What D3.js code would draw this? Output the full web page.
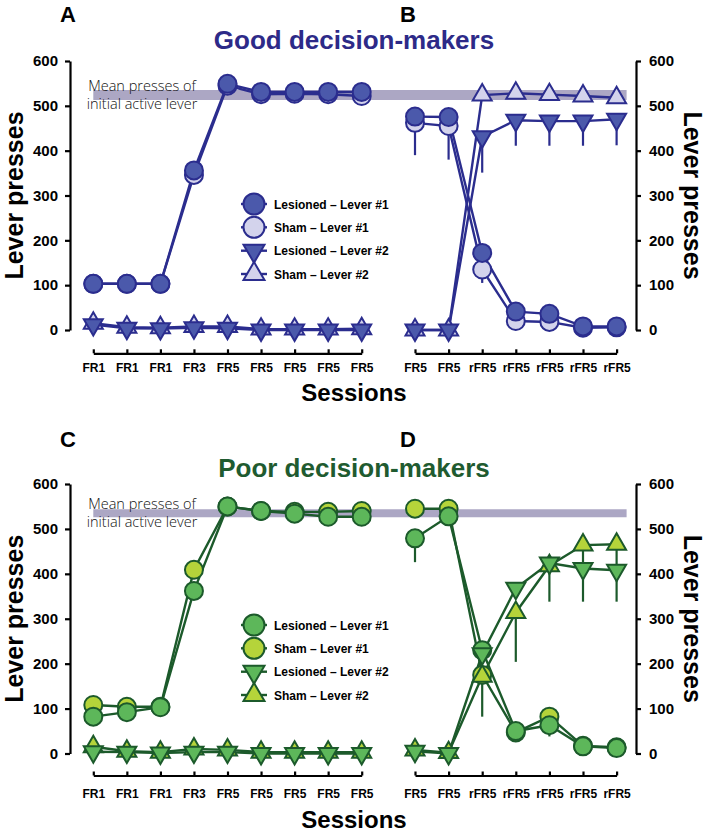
<!DOCTYPE html>
<html>
<head>
<meta charset="utf-8">
<script src="https://cdn.jsdelivr.net/npm/d3@7"></script>
<style>
  html, body { margin: 0; padding: 0; background: #fff; }
  svg { display: block; }
</style>
</head>
<body>
<svg id="chart" width="709" height="834"></svg>
<script>
// ---------------- DATA ----------------
const sessionsAcq = ["FR1","FR1","FR1","FR3","FR5","FR5","FR5","FR5","FR5"];
const sessionsRev = ["FR5","FR5","rFR5","rFR5","rFR5","rFR5","rFR5"];
const yTicks = [0, 100, 200, 300, 400, 500, 600];
const legendLabels = ["Lesioned – Lever #1", "Sham – Lever #1", "Lesioned – Lever #2", "Sham – Lever #2"];
const meanLabel = ["Mean presses of", "initial active lever"];

// Good decision-makers (panels A, B)
const goodMeanInitial = 524;
const goodLesL1Acq  = [103, 103, 103, 356, 549, 531, 531, 531, 531];
const goodShamL1Acq = [103, 103, 103, 346, 545, 526, 527, 526, 522];
const goodLesL2Acq  = [12, 4, 3, 5, 4, 0, 0, 0, 0];
const goodShamL2Acq = [15, 6, 5, 8, 8, 2, 2, 2, 3];
const goodLesL1Rev  = [476, 475, 172, 41, 36, 8, 8];
const goodShamL1Rev = [462, 455, 135, 20, 18, 5, 6];
const goodLesL2Rev  = [0, 0, 431, 468, 466, 466, 470];
const goodShamL2Rev = [0, 0, 524, 528, 525, 522, 518];
const goodShamL1RevErr = [72, 75, 30, 0, 0, 0, 0];
const goodLesL2RevErr  = [0, 0, 80, 57, 55, 55, 58];

// Poor decision-makers (panels C, D)
const poorMeanInitial = 535;
const poorLesL1Acq  = [82, 92, 103, 362, 550, 540, 534, 527, 527];
const poorShamL1Acq = [108, 104, 104, 409, 550, 540, 538, 538, 540];
const poorLesL2Acq  = [4, 3, 1, 3, 3, 0, 0, 0, 0];
const poorShamL2Acq = [15, 5, 3, 10, 8, 3, 3, 3, 3];
const poorLesL1Rev  = [479, 528, 230, 50, 63, 16, 12];
const poorShamL1Rev = [545, 545, 175, 47, 82, 17, 14];
const poorLesL2Rev  = [5, 0, 222, 368, 424, 412, 408];
const poorShamL2Rev = [8, 2, 172, 314, 418, 464, 466];
const poorLesL1RevErr  = [53, 0, 0, 0, 25, 0, 0];
const poorLesL2RevErr  = [0, 0, 0, 0, 86, 74, 70];
const poorShamL2RevErr = [0, 0, 90, 110, 0, 50, 50];

// ---------------- DRAW ----------------
const svg = d3.select("#chart");
const FONT = "'Liberation Sans', Arial, Helvetica, sans-serif";

const groups = [
  {
    title: "Good decision-makers", letters: ["A", "B"],
    stroke: "#2b2d8e", lesFill: "#4b59ab", shamFill: "#d3d3ec", titleColor: "#2d2a88",
    mean: goodMeanInitial, bandW: 10,
    acq: [goodShamL1Acq, goodLesL1Acq, goodShamL2Acq, goodLesL2Acq],
    rev: [goodShamL1Rev, goodLesL1Rev, goodShamL2Rev, goodLesL2Rev],
    revErr: [goodShamL1RevErr, null, null, goodLesL2RevErr],
    y0: 330, y600: 61, axisY: 353.3, tickLabelY: 372, sessionsY: 401,
    titleY: 49, letterY: 22, legendY: [204, 227.3, 250.7, 274], meanTextY: [91, 109]
  },
  {
    title: "Poor decision-makers", letters: ["C", "D"],
    stroke: "#1c5a2b", lesFill: "#5db75a", shamFill: "#b5d43a", titleColor: "#1f5b30",
    mean: poorMeanInitial, bandW: 8,
    acq: [poorShamL1Acq, poorLesL1Acq, poorShamL2Acq, poorLesL2Acq],
    rev: [poorShamL1Rev, poorLesL1Rev, poorShamL2Rev, poorLesL2Rev],
    revErr: [null, poorLesL1RevErr, poorShamL2RevErr, poorLesL2RevErr],
    y0: 753.5, y600: 484, axisY: 775.5, tickLabelY: 797.5, sessionsY: 828,
    titleY: 477, letterY: 447, legendY: [625, 648.3, 671.7, 695], meanTextY: [509, 527]
  }
];

const xAcq = d3.scalePoint().domain(d3.range(sessionsAcq.length)).range([93.3, 361.7]);
const xRev = d3.scalePoint().domain(d3.range(sessionsRev.length)).range([415, 616.6]);
const leftAxisX = 70, rightAxisX = 636;

// marker shapes: series order [shamL1, lesL1, shamL2, lesL2]
const TRI = 19;
function markerPath(kind, s) {
  const t = s || TRI, h = t * Math.sqrt(3) / 2;
  if (kind === "up") return `M0,${-h*2/3}L${t/2},${h/3}L${-t/2},${h/3}Z`;
  if (kind === "down") return `M0,${h*2/3}L${t/2},${-h/3}L${-t/2},${-h/3}Z`;
  return null;
}
const kinds = ["circle", "circle", "up", "down"];

function drawMarker(g, kind, x, y, fill, stroke, r, tri) {
  if (kind === "circle") {
    g.append("circle").attr("cx", x).attr("cy", y).attr("r", r || 9)
      .attr("fill", fill).attr("stroke", stroke).attr("stroke-width", 2);
  } else {
    g.append("path").attr("d", markerPath(kind, tri)).attr("transform", `translate(${x},${y})`)
      .attr("fill", fill).attr("stroke", stroke).attr("stroke-width", 2).attr("stroke-linejoin", "miter");
  }
}

groups.forEach(G => {
  const y = d3.scaleLinear().domain([0, 600]).range([G.y0, G.y600]);
  const fills = [G.shamFill, G.lesFill, G.shamFill, G.lesFill];
  const root = svg.append("g");

  // panel letters and title
  root.append("text").attr("x", 68).attr("y", G.letterY).attr("text-anchor", "middle")
    .attr("font-family", FONT).attr("font-weight", "bold").attr("font-size", 22).attr("fill", "#000").text(G.letters[0]);
  root.append("text").attr("x", 408).attr("y", G.letterY).attr("text-anchor", "middle")
    .attr("font-family", FONT).attr("font-weight", "bold").attr("font-size", 22).attr("fill", "#000").text(G.letters[1]);
  root.append("text").attr("x", 354).attr("y", G.titleY).attr("text-anchor", "middle")
    .attr("font-family", FONT).attr("font-weight", "bold").attr("font-size", 26).attr("fill", G.titleColor).text(G.title);

  // mean band
  root.append("line").attr("x1", xAcq(0)).attr("x2", xRev(sessionsRev.length - 1) + 10)
    .attr("y1", y(G.mean)).attr("y2", y(G.mean))
    .attr("stroke", "#aca7c4").attr("stroke-width", G.bandW);

  root.selectAll(null).data(meanLabel).join("text")
    .attr("x", 142).attr("y", (d, i) => G.meanTextY[i]).attr("text-anchor", "middle")
    .attr("font-family", "'Open Sans', 'Lato', sans-serif").attr("font-weight", 300)
    .attr("font-size", 14.5).attr("fill", "#111").text(d => d);

  // axes
  const yl = root.append("g").attr("transform", `translate(${leftAxisX},0)`)
    .call(d3.axisLeft(y).tickValues(yTicks).tickSize(5).tickSizeOuter(0).tickPadding(7));
  const yr = root.append("g").attr("transform", `translate(${rightAxisX},0)`)
    .call(d3.axisRight(y).tickValues(yTicks).tickSize(5).tickSizeOuter(0).tickPadding(8));
  const xl = root.append("g").attr("transform", `translate(0,${G.axisY})`)
    .call(d3.axisTop(xAcq).tickSize(4).tickSizeOuter(0).tickFormat(i => sessionsAcq[i]));
  const xr = root.append("g").attr("transform", `translate(0,${G.axisY})`)
    .call(d3.axisTop(xRev).tickSize(4).tickSizeOuter(0).tickFormat(i => sessionsRev[i]));
  [yl, yr].forEach(a => {
    a.selectAll("path, line").attr("stroke", "#000").attr("stroke-width", 2.2);
    a.selectAll("text").attr("font-family", FONT).attr("font-weight", "bold").attr("font-size", 15).attr("fill", "#000");
  });
  [xl, xr].forEach(a => {
    a.selectAll("path, line").attr("stroke", "#000").attr("stroke-width", 2.2);
    a.selectAll("text").attr("font-family", FONT).attr("font-weight", "bold").attr("font-size", 12)
      .attr("fill", "#000").attr("y", G.tickLabelY - G.axisY).attr("dy", 0);
  });

  // axis titles
  root.append("text").attr("x", 354).attr("y", G.sessionsY).attr("text-anchor", "middle")
    .attr("font-family", FONT).attr("font-weight", "bold").attr("font-size", 24).text("Sessions");
  const ymid = (G.y0 + G.y600) / 2;
  root.append("text").attr("transform", `translate(23,${ymid}) rotate(-90)`).attr("text-anchor", "middle")
    .attr("font-family", FONT).attr("font-weight", "bold").attr("font-size", 25).text("Lever presses");
  root.append("text").attr("transform", `translate(684,${ymid}) rotate(90)`).attr("text-anchor", "middle")
    .attr("font-family", FONT).attr("font-weight", "bold").attr("font-size", 25).text("Lever presses");

  // data
  const line = (xs) => d3.line().x((d, i) => xs(i)).y(d => y(d));
  const dataG = root.append("g");
  const parts = [[G.acq, xAcq, null], [G.rev, xRev, G.revErr]];
  // error bars (downwards)
  parts.forEach(([series, xs, errs]) => {
    if (!errs) return;
    errs.forEach((e, s) => {
      if (!e) return;
      e.forEach((v, i) => {
        if (!v) return;
        dataG.append("line").attr("x1", xs(i)).attr("x2", xs(i))
          .attr("y1", y(series[s][i])).attr("y2", y(series[s][i] - v))
          .attr("stroke", G.stroke).attr("stroke-width", 2.2);
      });
    });
  });
  // lines
  parts.forEach(([series, xs]) => {
    series.forEach(vals => {
      dataG.append("path").attr("d", line(xs)(vals)).attr("fill", "none")
        .attr("stroke", G.stroke).attr("stroke-width", 2.4);
    });
  });
  // markers: circles first, then triangles; sham then lesioned
  parts.forEach(([series, xs]) => {
    series.forEach((vals, s) => {
      vals.forEach((v, i) => drawMarker(dataG, kinds[s], xs(i), y(v), fills[s], G.stroke));
    });
  });

  // legend
  const legOrder = [1, 0, 3, 2]; // Lesioned L1, Sham L1, Lesioned L2, Sham L2
  const lg = root.append("g");
  legOrder.forEach((s, k) => {
    const ly = G.legendY[k];
    lg.append("line").attr("x1", 241).attr("x2", 267).attr("y1", ly).attr("y2", ly)
      .attr("stroke", G.stroke).attr("stroke-width", 2.4);
    drawMarker(lg, kinds[s], 254, ly, fills[s], G.stroke, 10.5, 21);
    lg.append("text").attr("x", 274).attr("y", ly + 4.5).attr("font-family", FONT)
      .attr("font-weight", "bold").attr("font-size", 12).attr("fill", "#000").text(legendLabels[k]);
  });
});
</script>
</body>
</html>
